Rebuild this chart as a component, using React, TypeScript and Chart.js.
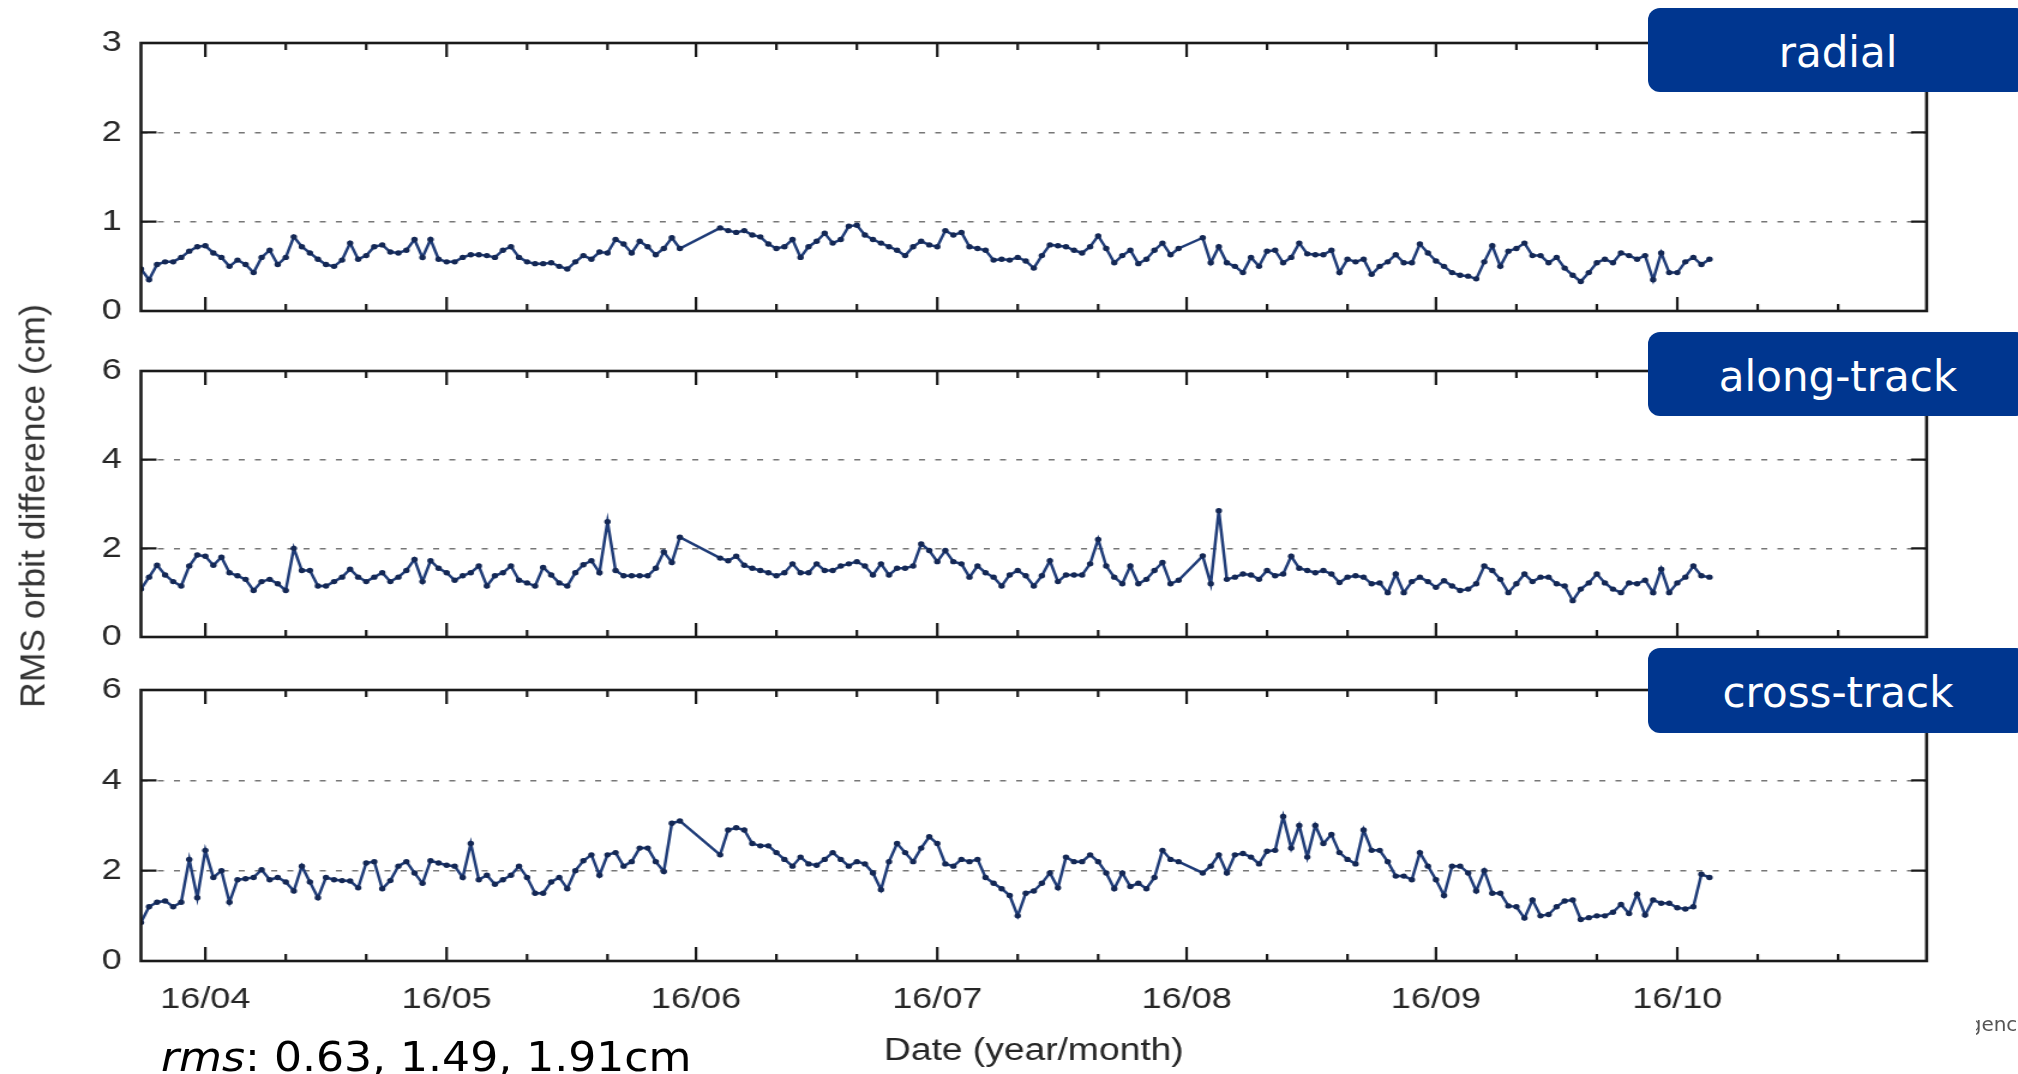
import React, { useEffect, useRef } from 'react';
import { Chart, registerables } from 'chart.js';

Chart.register(...registerables);

// ---------------- data ----------------
// x values are day-of-year 2016; first sample on 24 March (day 84)
const FIRST_DAY = 84;
const X_MIN = 84; // 24 Mar 2016
const X_MAX = 306; // 1 Nov 2016
const MONTH_START_DAYS = [92, 122, 153, 183, 214, 245, 275];
const MONTH_LABELS = ['16/04', '16/05', '16/06', '16/07', '16/08', '16/09', '16/10'];
const MINOR_TICK_OFFSETS = [10, 20];

const radial: (number | null)[] = [
  0.47, 0.35, 0.52, 0.55, 0.55, 0.6, 0.67, 0.72, 0.73, 0.65,
  0.6, 0.5, 0.57, 0.52, 0.43, 0.6, 0.68, 0.52, 0.6, 0.83,
  0.72, 0.65, 0.58, 0.52, 0.5, 0.57, 0.76, 0.58, 0.62, 0.72,
  0.74, 0.66, 0.65, 0.68, 0.8, 0.6, 0.8, 0.58, 0.55, 0.55,
  0.6, 0.63, 0.63, 0.62, 0.6, 0.68, 0.72, 0.6, 0.55, 0.53,
  0.53, 0.54, 0.5, 0.47, 0.55, 0.62, 0.58, 0.66, 0.65, 0.8,
  0.75, 0.65, 0.78, 0.72, 0.63, 0.7, 0.82, 0.7, null, null,
  null, null, 0.93, 0.9, 0.88, 0.9, 0.85, 0.83, 0.75, 0.7,
  0.72, 0.8, 0.6, 0.72, 0.78, 0.87, 0.76, 0.8, 0.95, 0.96,
  0.85, 0.8, 0.76, 0.72, 0.68, 0.62, 0.72, 0.78, 0.74, 0.72,
  0.9, 0.85, 0.88, 0.72, 0.7, 0.68, 0.57, 0.58, 0.57, 0.6,
  0.56, 0.48, 0.62, 0.74, 0.73, 0.72, 0.68, 0.65, 0.72, 0.84,
  0.7, 0.54, 0.62, 0.68, 0.53, 0.58, 0.68, 0.76, 0.63, 0.7,
  null, null, 0.82, 0.54, 0.72, 0.54, 0.5, 0.43, 0.6, 0.5,
  0.67, 0.68, 0.54, 0.6, 0.76, 0.64, 0.63, 0.63, 0.68, 0.43,
  0.58, 0.55, 0.58, 0.41, 0.5, 0.55, 0.63, 0.54, 0.54, 0.75,
  0.65, 0.56, 0.5, 0.43, 0.4, 0.39, 0.36, 0.55, 0.73, 0.5,
  0.67, 0.7, 0.76, 0.62, 0.62, 0.54, 0.6, 0.48, 0.4, 0.33,
  0.43, 0.54, 0.58, 0.54, 0.65, 0.62, 0.58, 0.62, 0.35, 0.65,
  0.43, 0.43, 0.55, 0.6, 0.52, 0.58,
];

const alongTrack: (number | null)[] = [
  1.08, 1.35, 1.62, 1.4, 1.25, 1.15, 1.6, 1.85, 1.82, 1.62,
  1.8, 1.45, 1.38, 1.3, 1.05, 1.25, 1.3, 1.2, 1.05, 2.0,
  1.5, 1.5, 1.15, 1.15, 1.25, 1.35, 1.53, 1.35, 1.25, 1.35,
  1.45, 1.25, 1.35, 1.5, 1.75, 1.25, 1.72, 1.55, 1.45, 1.28,
  1.38, 1.45, 1.6, 1.15, 1.38, 1.45, 1.6, 1.28, 1.22, 1.15,
  1.57, 1.4, 1.22, 1.15, 1.45, 1.63, 1.72, 1.45, 2.6, 1.5,
  1.38, 1.38, 1.38, 1.38, 1.55, 1.92, 1.68, 2.25, null, null,
  null, null, 1.78, 1.72, 1.82, 1.62, 1.55, 1.5, 1.45, 1.38,
  1.45, 1.65, 1.45, 1.45, 1.65, 1.5, 1.5, 1.6, 1.65, 1.7,
  1.6, 1.4, 1.65, 1.4, 1.55, 1.55, 1.6, 2.1, 1.95, 1.7,
  1.95, 1.7, 1.65, 1.35, 1.6, 1.45, 1.35, 1.15, 1.4, 1.5,
  1.38, 1.15, 1.38, 1.72, 1.25, 1.4, 1.4, 1.4, 1.65, 2.2,
  1.6, 1.35, 1.2, 1.6, 1.2, 1.3, 1.5, 1.68, 1.2, 1.28,
  null, null, 1.83, 1.2, 2.85, 1.3, 1.35, 1.42, 1.4, 1.3,
  1.5, 1.38, 1.42, 1.82, 1.55, 1.5, 1.45, 1.5, 1.42, 1.23,
  1.35, 1.38, 1.35, 1.2, 1.22, 1.0, 1.42, 1.0, 1.25, 1.35,
  1.25, 1.12, 1.27, 1.15, 1.05, 1.08, 1.2, 1.6, 1.5, 1.3,
  1.0, 1.2, 1.42, 1.25, 1.35, 1.35, 1.2, 1.15, 0.82, 1.08,
  1.22, 1.42, 1.22, 1.08, 1.0, 1.22, 1.2, 1.28, 1.0, 1.53,
  1.0, 1.22, 1.35, 1.6, 1.38, 1.35,
];

const crossTrack: (number | null)[] = [
  0.85, 1.2, 1.3, 1.33, 1.2, 1.3, 2.25, 1.4, 2.45, 1.85,
  2.0, 1.3, 1.8, 1.82, 1.85, 2.02, 1.8, 1.85, 1.75, 1.55,
  2.1, 1.75, 1.4, 1.85, 1.8, 1.78, 1.77, 1.62, 2.17, 2.2,
  1.6, 1.78, 2.1, 2.2, 1.95, 1.72, 2.22, 2.17, 2.12, 2.1,
  1.85, 2.6, 1.8, 1.9, 1.7, 1.8, 1.9, 2.1, 1.85, 1.5,
  1.5, 1.75, 1.85, 1.6, 2.0, 2.22, 2.35, 1.9, 2.35, 2.4,
  2.1, 2.2, 2.5, 2.5, 2.2, 1.98, 3.05, 3.1, null, null,
  null, null, 2.35, 2.9, 2.95, 2.9, 2.6, 2.55, 2.55, 2.4,
  2.25, 2.1, 2.3, 2.15, 2.12, 2.25, 2.4, 2.25, 2.1, 2.2,
  2.15, 1.95, 1.58, 2.2, 2.6, 2.4, 2.2, 2.5, 2.75, 2.6,
  2.15, 2.1, 2.25, 2.2, 2.25, 1.85, 1.72, 1.6, 1.45, 1.0,
  1.5, 1.55, 1.72, 1.95, 1.62, 2.3, 2.2, 2.2, 2.35, 2.2,
  1.95, 1.6, 1.95, 1.65, 1.72, 1.6, 1.85, 2.45, 2.25, 2.2,
  null, null, 1.95, 2.1, 2.35, 1.95, 2.35, 2.38, 2.3, 2.15,
  2.43, 2.45, 3.2, 2.5, 3.0, 2.3, 3.0, 2.6, 2.8, 2.4,
  2.25, 2.15, 2.9, 2.45, 2.45, 2.2, 1.88, 1.88, 1.8, 2.4,
  2.1, 1.8, 1.45, 2.1, 2.1, 1.95, 1.55, 2.0, 1.5, 1.5,
  1.22, 1.2, 0.95, 1.35, 1.0, 1.03, 1.2, 1.33, 1.35, 0.92,
  0.96, 1.0, 1.0, 1.08, 1.25, 1.05, 1.48, 1.02, 1.35, 1.28,
  1.28, 1.18, 1.15, 1.2, 1.92, 1.85,
];

const PANEL_NAMES = ['radial', 'along-track', 'cross-track'];
const Y_MAXES = [3, 6, 6];
const Y_STEPS = [1, 2, 2];
const RMS_VALUES = ['0.63', '1.49', '1.91'];
const X_TITLE = 'Date (year/month)';
const Y_TITLE = 'RMS orbit difference (cm)';

// ---------------- layout / style ----------------
const PAGE_W = 2018;
const PAGE_H = 1074;
const STRETCH = 1.2; // the reference plot is horizontally stretched
const INTERNAL_W = Math.round(PAGE_W / STRETCH);
const AREA_LEFT = 141 / STRETCH;
const AREA_RIGHT = 1927 / STRETCH;
const PAD_RIGHT = INTERNAL_W - AREA_RIGHT;

const LINE_COLOR = '#1f3c78';
const POINT_COLOR = '#142855';
const FRAME_COLOR = '#1a1a1a';
const GRID_COLOR = '#777777';
const TEXT_COLOR = '#262626';
const BOX_COLOR = '#00368f';
const CHART_FONT = "'Liberation Sans', Arial, Helvetica, sans-serif";
const SLIDE_FONT = "'DejaVu Sans', Verdana, sans-serif";

const PANEL_LAYOUT = [
  { top: 0, height: 330, padTop: 43, xHeight: 19, boxTop: 8, boxH: 84 },
  { top: 340, height: 310, padTop: 31, xHeight: 13, boxTop: 332, boxH: 84 },
  { top: 650, height: 424, padTop: 40, xHeight: 113, boxTop: 648, boxH: 85 },
];

const framePlugin = {
  id: 'gnuplotFrame',
  afterDatasetsDraw(chart: any) {
    const { ctx, chartArea, scales } = chart;
    const { left, right, top, bottom } = chartArea;
    const xs = scales.x;
    const ys = scales.y;
    ctx.save();
    ctx.strokeStyle = FRAME_COLOR;
    ctx.lineWidth = 2.2;
    ctx.beginPath();
    MONTH_START_DAYS.forEach((m) => {
      const days = [{ d: m, major: true }, ...MINOR_TICK_OFFSETS.map((o) => ({ d: m + o, major: false }))];
      days.forEach(({ d, major }) => {
        if (d <= X_MIN || d >= X_MAX) return;
        const px = xs.getPixelForValue(d);
        const len = major ? 14 : 7;
        ctx.moveTo(px, bottom);
        ctx.lineTo(px, bottom - len);
        ctx.moveTo(px, top);
        ctx.lineTo(px, top + len);
      });
    });
    ys.ticks.forEach((t: any) => {
      const py = ys.getPixelForValue(t.value);
      ctx.moveTo(left, py);
      ctx.lineTo(left + 13, py);
      ctx.moveTo(right, py);
      ctx.lineTo(right - 13, py);
    });
    ctx.stroke();
    ctx.lineWidth = 2.6;
    ctx.strokeRect(left, top, right - left, bottom - top);
    ctx.restore();
  },
};

function Panel({ index }: { index: number }) {
  const ref = useRef<HTMLCanvasElement | null>(null);
  const lay = PANEL_LAYOUT[index];
  const values = [radial, alongTrack, crossTrack][index];
  const showX = index === 2;
  const yMax = Y_MAXES[index];

  useEffect(() => {
    if (!ref.current) return;
    const chart = new Chart(ref.current, {
      type: 'line',
      data: {
        datasets: [
          {
            label: PANEL_NAMES[index],
            data: values.map((v, i) => ({ x: FIRST_DAY + i, y: v })) as any,
            borderColor: LINE_COLOR,
            borderWidth: 2.5,
            pointRadius: 2.7,
            pointBackgroundColor: POINT_COLOR,
            pointBorderWidth: 0,
            spanGaps: true,
            tension: 0,
          },
        ],
      },
      options: {
        responsive: false,
        animation: false,
        devicePixelRatio: 1,
        events: [],
        layout: { padding: { left: 0, right: PAD_RIGHT, top: lay.padTop, bottom: 0 } },
        plugins: { legend: { display: false }, tooltip: { enabled: false } },
        scales: {
          x: {
            type: 'linear',
            min: X_MIN,
            max: X_MAX,
            afterBuildTicks: (s: any) => {
              s.ticks = MONTH_START_DAYS.map((v) => ({ value: v }));
            },
            afterFit: (s: any) => {
              s.height = lay.xHeight;
              s.paddingLeft = 0;
              s.paddingRight = 0;
            },
            grid: { display: false, drawTicks: false },
            border: { display: false },
            ticks: {
              display: showX,
              autoSkip: false,
              maxRotation: 0,
              padding: 21,
              color: TEXT_COLOR,
              font: { family: CHART_FONT, size: 30 },
              callback: (v: any) => {
                const k = MONTH_START_DAYS.indexOf(Number(v));
                return k >= 0 ? MONTH_LABELS[k] : '';
              },
            },
            title: {
              display: showX,
              text: X_TITLE,
              color: TEXT_COLOR,
              font: { family: CHART_FONT, size: 31 },
              padding: { top: 0, bottom: 4 },
            },
          },
          y: {
            min: 0,
            max: yMax,
            afterFit: (s: any) => {
              s.width = AREA_LEFT;
              s.paddingTop = 0;
              s.paddingBottom = 0;
            },
            ticks: {
              stepSize: Y_STEPS[index],
              padding: 16,
              color: TEXT_COLOR,
              font: { family: CHART_FONT, size: 30 },
            },
            grid: {
              drawTicks: false,
              lineWidth: 1.4,
              color: (c: any) =>
                c.tick && c.tick.value > 0 && c.tick.value < yMax ? GRID_COLOR : 'rgba(0,0,0,0)',
            },
            border: { display: false, dash: [5, 8.5] },
          },
        },
      },
      plugins: [framePlugin],
    });
    return () => chart.destroy();
  }, []);

  return (
    <canvas
      ref={ref}
      width={INTERNAL_W}
      height={lay.height}
      style={{ position: 'absolute', left: 0, top: lay.top, width: PAGE_W, height: lay.height }}
    />
  );
}

export default function App() {
  return (
    <div
      style={{
        position: 'fixed',
        left: 0,
        top: 0,
        width: PAGE_W,
        height: PAGE_H,
        background: '#ffffff',
        overflow: 'hidden',
      }}
    >
      {PANEL_NAMES.map((_, i) => (
        <Panel key={i} index={i} />
      ))}

      <div
        style={{
          position: 'absolute',
          left: 33,
          top: 506,
          transform: 'translate(-50%, -50%) rotate(-90deg)',
          whiteSpace: 'nowrap',
          fontFamily: CHART_FONT,
          fontSize: 35.5,
          color: '#333333',
        }}
      >
        {Y_TITLE}
      </div>

      {PANEL_NAMES.map((name, i) => (
        <div
          key={name}
          style={{
            position: 'absolute',
            left: 1648,
            top: PANEL_LAYOUT[i].boxTop,
            width: 380,
            height: PANEL_LAYOUT[i].boxH,
            background: BOX_COLOR,
            borderRadius: 12,
            display: 'flex',
            alignItems: 'center',
            justifyContent: 'center',
            paddingTop: 4,
            boxSizing: 'border-box',
            color: '#ffffff',
            fontFamily: SLIDE_FONT,
            fontSize: 42,
            whiteSpace: 'nowrap',
          }}
        >
          {name}
        </div>
      ))}

      <div
        style={{
          position: 'absolute',
          left: 161,
          top: 1037,
          fontFamily: SLIDE_FONT,
          fontSize: 41,
          lineHeight: '41px',
          color: '#000000',
          whiteSpace: 'nowrap',
          transform: 'scaleX(1.075)',
          transformOrigin: 'left center',
        }}
      >
        <i>rms</i>
        {': ' + RMS_VALUES.join(', ') + 'cm'}
      </div>

      <div
        style={{
          position: 'absolute',
          left: 1976,
          top: 1012,
          width: 42,
          height: 30,
          overflow: 'hidden',
        }}
      >
        <div
          style={{
            position: 'absolute',
            left: -21,
            top: 0,
            fontFamily: SLIDE_FONT,
            fontSize: 20,
            color: '#555555',
            whiteSpace: 'nowrap',
          }}
        >
          Agency
        </div>
      </div>
    </div>
  );
}
